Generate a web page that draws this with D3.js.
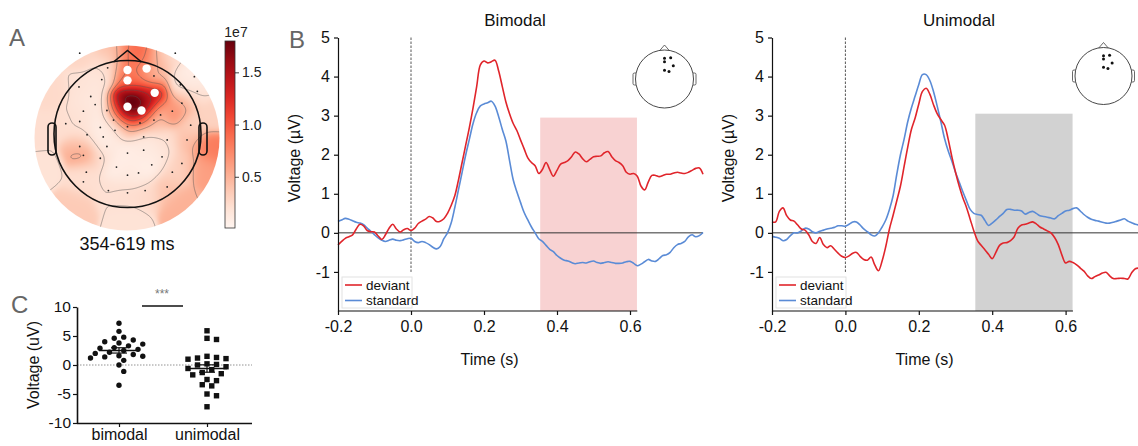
<!DOCTYPE html>
<meta charset="utf-8">
<head>
<title>Mismatch response figure</title>
<script src="https://d3js.org/d3.v7.min.js"></script>
<style>
  body { margin: 0; background: #fff; }
  svg text { font-family: "Liberation Sans", Arial, Helvetica, sans-serif; fill: #111; }
  .axis path, .axis line { stroke: #111; stroke-width: 1.2px; }
  .axis text { font-size: 16px; }
</style>
</head>
<body>
<svg id="fig" width="1138" height="446"></svg>
<script>

// ---------------- data ----------------
// ERP time base, -0.2 .. 0.8 s every 10 ms
var times = d3.range(101).map(function(i) { return Math.round(-20 + i) / 100; });

var bimodalDeviant = [
  -0.31,-0.22,-0.14,-0.10,-0.05,0.10,0.22,0.18,0.06,0.03,0.02,-0.08,-0.17,-0.05,0.12,0.22,0.10,0.02,0.08,0.11,
  0.06,
  0.12,0.24,0.30,0.35,0.42,0.38,0.29,0.30,0.36,0.50,
  0.70,0.95,1.35,1.80,2.25,2.70,3.20,3.75,4.30,4.40,
  4.35,4.38,4.42,4.15,3.75,3.35,3.05,2.80,2.62,2.38,
  2.15,1.92,1.80,1.72,1.52,1.62,1.80,1.62,1.45,1.60,
  1.76,1.80,1.85,1.95,2.07,2.02,1.90,1.82,1.88,1.95,
  1.96,1.97,2.05,2.08,1.95,1.85,1.80,1.72,1.55,1.50,
  1.52,1.45,1.20,1.10,1.30,1.47,1.47,1.44,1.47,1.50,
  1.50,1.53,1.55,1.53,1.52,1.55,1.60,1.65,1.66,1.50
];
var bimodalStandard = [
  0.29,0.33,0.37,0.35,0.31,0.27,0.25,0.21,0.12,0.04,-0.05,-0.13,-0.19,-0.22,-0.19,-0.16,-0.19,-0.20,-0.18,-0.15,
  -0.14,
  -0.22,-0.25,-0.22,-0.25,-0.30,-0.37,-0.41,-0.35,-0.15,0.00,
  0.25,0.65,1.10,1.55,2.00,2.40,2.80,3.08,3.25,3.30,
  3.33,3.37,3.25,2.98,2.65,2.35,1.85,1.36,1.05,0.78,
  0.52,0.33,0.15,0.00,-0.15,-0.22,-0.32,-0.42,-0.48,-0.58,
  -0.65,-0.70,-0.72,-0.76,-0.79,-0.77,-0.76,-0.77,-0.74,-0.72,
  -0.76,-0.78,-0.76,-0.74,-0.76,-0.78,-0.78,-0.77,-0.74,-0.73,
  -0.78,-0.84,-0.80,-0.74,-0.68,-0.72,-0.73,-0.66,-0.58,-0.56,
  -0.50,-0.38,-0.30,-0.27,-0.22,-0.10,-0.05,-0.10,-0.07,0.01
];
var unimodalDeviant = [
  0.28,0.28,0.55,0.64,0.44,0.33,0.30,0.20,0.10,0.07,-0.05,-0.22,-0.27,-0.12,-0.30,-0.38,-0.33,-0.42,-0.52,-0.60,
  -0.63,
  -0.59,-0.52,-0.50,-0.60,-0.68,-0.70,-0.62,-0.82,-0.97,-0.72,
  -0.35,0.10,0.45,0.82,1.20,1.70,2.20,2.65,2.94,3.30,
  3.62,3.70,3.55,3.28,3.05,2.90,2.76,2.40,1.95,1.55,
  1.20,0.90,0.65,0.35,0.05,-0.20,-0.32,-0.43,-0.55,-0.66,
  -0.50,-0.32,-0.26,-0.25,-0.20,-0.10,0.12,0.20,0.22,0.25,
  0.28,0.23,0.15,0.10,0.05,0.00,-0.12,-0.30,-0.57,-0.77,
  -0.73,-0.76,-0.82,-0.90,-0.98,-1.10,-1.17,-1.12,-1.08,-1.03,
  -1.01,-1.10,-1.17,-1.17,-1.16,-1.17,-1.18,-1.02,-0.92,-0.90
];
var unimodalStandard = [
  -0.09,-0.11,-0.14,-0.20,-0.17,-0.07,0.00,0.00,0.05,0.12,0.10,0.03,0.00,0.04,0.07,0.10,0.12,0.14,0.18,0.18,
  0.17,
  0.22,0.28,0.28,0.20,0.10,0.03,-0.05,-0.08,0.00,0.15,
  0.33,0.60,0.95,1.50,2.00,2.40,2.85,3.20,3.50,3.80,
  4.05,4.05,3.90,3.62,3.25,2.85,2.42,2.10,1.84,1.55,
  1.30,1.05,0.82,0.60,0.50,0.47,0.45,0.32,0.19,0.25,
  0.33,0.42,0.50,0.60,0.60,0.58,0.58,0.56,0.48,0.52,
  0.55,0.50,0.44,0.42,0.40,0.38,0.36,0.44,0.50,0.56,
  0.58,0.62,0.64,0.56,0.47,0.40,0.35,0.32,0.30,0.27,
  0.25,0.25,0.27,0.30,0.33,0.36,0.30,0.26,0.22,0.20
];
var erpYTicks = [-1, 0, 1, 2, 3, 4, 5];
var erpXTicks = [-0.2, 0.0, 0.2, 0.4, 0.6];
var testWindow = [0.354, 0.619];

// panel C: per-subject mean voltage in the window
var bimodalSubjects = [7.2,5.8,4.8,4.6,4.3,4.0,3.8,3.6,3.3,3.0,2.9,2.7,2.5,2.2,2.0,1.8,1.6,1.5,1.4,1.2,0.8,0.0,-1.1,-3.5];
var unimodalSubjects = [5.9,4.6,4.4,1.5,1.3,1.2,1.1,1.0,0.2,0.1,0.0,-0.3,-0.6,-0.8,-1.3,-1.5,-1.7,-2.5,-2.7,-3.4,-3.6,-5.0,-5.3,-7.2];
var groupNames = ["bimodal", "unimodal"];
var cTicks = [-10, -5, 0, 5, 10];

// panel A: sensor layout (head radius = 1) and F-values (x1e7)
var sensorPos = [
  [-0.65,-1.10],[0.65,-1.10],[-0.27,-0.90],[-0.35,-0.74],[-0.66,-0.64],[-0.50,-0.51],[-0.60,-0.31],[-0.44,-0.40],
  [-0.28,-0.32],[-0.84,-0.14],[-0.65,-0.17],[-0.37,-0.09],[-0.17,-0.05],[0.00,-0.10],[0.36,-0.19],[0.61,-0.31],
  [0.74,-0.42],[0.91,-0.78],[0.95,-0.58],[0.86,-0.12],[-0.55,0.01],[-0.65,0.17],[-0.60,0.29],[-0.37,0.33],
  [0.00,0.26],[0.22,0.22],[0.47,0.31],[0.74,0.40],[-0.56,0.52],[-0.15,0.45],[0.00,0.56],[0.15,0.53],
  [0.33,0.42],[0.61,0.52],[-0.60,0.65],[-0.26,0.77],[0.00,0.80],[0.24,0.77],[0.54,0.72],[0.17,-0.15],
  [-0.19,-0.19],[0.45,-0.26],[0.81,0.08],[-0.33,0.04],[0.22,0.04],[0.54,0.08],[-0.28,0.17],[0.72,-0.67],
  [0.36,-0.79]
];
var sensorVal = [
  0.28,0.22,0.22,0.15,0.18,0.15,0.18,0.12,
  0.06,0.22,0.18,0.06,0.15,0.40,0.35,0.80,
  0.45,0.06,0.20,0.30,0.20,0.40,0.65,0.25,
  0.08,0.12,0.15,0.35,0.20,0.06,0.15,0.08,
  0.06,0.30,0.22,0.20,0.22,0.25,0.40,0.50,
  0.18,0.45,0.45,0.06,0.12,0.20,0.12,0.15,
  0.35
];
var selectedPos = [[0.00,-0.87],[0.26,-0.89],[0.00,-0.73],[0.37,-0.56],[0.00,-0.37],[0.19,-0.32]];
var selectedVal = [0.80, 0.72, 0.88, 1.30, 2.25, 1.75];
// extra interpolation anchors inside the cluster and on the extrapolated rim
var anchorPos = [
  [0.10,-0.50],[-0.08,-0.42],[0.25,-0.45],[0.06,-0.25],[-0.10,-0.30],[0.15,-0.72],[0.18,-1.05],[0.05,-1.12],
  [-0.20,-1.12],[0.42,-1.02],[1.12,0.20],[1.02,0.45],[0.75,0.95],[-0.70,0.95],[0.00,1.15],[-1.15,0.00],
  [-1.00,-0.60],[1.00,-0.80],[-1.10,0.45],[1.15,-0.25],[0.05,-0.38]
];
var anchorVal = [
  1.75,1.35,1.50,1.50,1.05,0.85,0.95,0.85,
  0.40,0.40,0.80,0.60,0.50,0.35,0.18,0.22,
  0.25,0.12,0.18,0.30,2.35
];
var topoMax = 1.8;
var topoLevels = [0.2, 0.5, 0.8, 1.1, 1.4, 1.7];
var cbarTicks = [0.5, 1.0, 1.5];

// ---------------- drawing ----------------
var svg = d3.select("#fig");
var RED = "#e0252b", BLUE = "#5a8bd6";

function letter(txt, x, y) {
  svg.append("text").attr("x", x).attr("y", y).text(txt)
    .style("font-size", "24px").style("fill", "#666");
}

// ----- Panel A -----
(function() {
  var cx = 127.5, cy = 134, R = 73.5;           // head circle
  var dcx = 127, dcy = 138, dR = 92.5;          // coloured disk
  var half = 97, N = half * 2;
  var ox = dcx - half, oy = dcy - half;

  var pts = [];
  sensorPos.forEach(function(p, i) { pts.push([p[0], p[1], sensorVal[i]]); });
  selectedPos.forEach(function(p, i) { pts.push([p[0], p[1], selectedVal[i]]); });
  anchorPos.forEach(function(p, i) { pts.push([p[0], p[1], anchorVal[i]]); });
  var s2 = 2 * 0.12 * 0.12;

  function field(u, v) {
    var num = 0, den = 0;
    for (var k = 0; k < pts.length; k++) {
      var du = u - pts[k][0], dv = v - pts[k][1];
      var w = Math.exp(-(du * du + dv * dv) / s2);
      num += w * pts[k][2]; den += w;
    }
    return den > 0 ? num / den : 0;
  }

  var grid = new Float64Array(N * N);
  for (var j = 0; j < N; j++) {
    for (var i = 0; i < N; i++) {
      grid[j * N + i] = field((ox + i + 0.5 - cx) / R, (oy + j + 0.5 - cy) / R);
    }
  }

  var color = d3.scaleSequential(d3.interpolateReds).domain([0, topoMax]).clamp(true);
  var canvas = document.createElement("canvas");
  canvas.width = N; canvas.height = N;
  var ctx = canvas.getContext("2d");
  var img = ctx.createImageData(N, N);
  for (var j2 = 0; j2 < N; j2++) {
    for (var i2 = 0; i2 < N; i2++) {
      var c = d3.rgb(color(grid[j2 * N + i2]));
      var idx = (j2 * N + i2) * 4;
      img.data[idx] = c.r; img.data[idx + 1] = c.g; img.data[idx + 2] = c.b; img.data[idx + 3] = 255;
    }
  }
  ctx.putImageData(img, 0, 0);

  var defs = svg.append("defs");
  defs.append("clipPath").attr("id", "diskClip")
    .append("circle").attr("cx", dcx).attr("cy", dcy).attr("r", dR);

  var gA = svg.append("g");
  gA.append("image").attr("x", ox).attr("y", oy).attr("width", N).attr("height", N)
    .attr("href", canvas.toDataURL()).attr("clip-path", "url(#diskClip)");

  var contours = d3.contours().size([N, N]).thresholds(topoLevels)(Array.from(grid));
  gA.append("g").attr("clip-path", "url(#diskClip)")
    .append("g").attr("transform", "translate(" + ox + "," + oy + ")")
    .selectAll("path").data(contours).join("path")
      .attr("d", d3.geoPath())
      .attr("fill", "none").attr("stroke", "#555").attr("stroke-width", 0.6).attr("stroke-opacity", 0.8);

  // head outline
  gA.append("circle").attr("cx", cx).attr("cy", cy).attr("r", R)
    .attr("fill", "none").attr("stroke", "#111").attr("stroke-width", 1.6);
  gA.append("path")
    .attr("d", "M" + (cx - 14) + "," + (cy - R + 1.5) + "L" + cx + "," + (cy - R - 10) + "L" + (cx + 14) + "," + (cy - R + 1.5))
    .attr("fill", "none").attr("stroke", "#111").attr("stroke-width", 1.6);
  [cx - R - 6, cx + R - 2].forEach(function(ex) {
    gA.append("rect").attr("x", ex).attr("y", cy - 11).attr("width", 8).attr("height", 32).attr("rx", 4)
      .attr("fill", "none").attr("stroke", "#111").attr("stroke-width", 1.6);
  });

  gA.selectAll("circle.sensor").data(sensorPos).join("circle").attr("class", "sensor")
    .attr("cx", function(d) { return cx + d[0] * R; }).attr("cy", function(d) { return cy + d[1] * R; })
    .attr("r", 0.9).attr("fill", "#222");
  gA.selectAll("circle.sel").data(selectedPos).join("circle").attr("class", "sel")
    .attr("cx", function(d) { return cx + d[0] * R; }).attr("cy", function(d) { return cy + d[1] * R; })
    .attr("r", 4.2).attr("fill", "#fff");

  svg.append("text").attr("x", 127).attr("y", 250).attr("text-anchor", "middle")
    .style("font-size", "18px").text("354-619 ms");

  // colorbar
  var cb = d3.scaleLinear().domain([0, topoMax]).range([229, 41]);
  var grad = defs.append("linearGradient").attr("id", "cbGrad")
    .attr("x1", 0).attr("y1", 1).attr("x2", 0).attr("y2", 0);
  d3.range(11).forEach(function(k) {
    grad.append("stop").attr("offset", k / 10).attr("stop-color", d3.interpolateReds(k / 10));
  });
  svg.append("rect").attr("x", 225).attr("y", 41).attr("width", 10).attr("height", 187)
    .attr("fill", "url(#cbGrad)").attr("stroke", "#333").attr("stroke-width", 0.8);
  var cbAxis = svg.append("g").attr("class", "axis").attr("transform", "translate(235,0)")
    .call(d3.axisRight(cb).tickValues(cbarTicks).tickSize(4).tickPadding(3)
      .tickFormat(function(d) { return d.toFixed(1); }));
  cbAxis.select(".domain").remove();
  cbAxis.selectAll("line").style("stroke-width", "0.8px");
  cbAxis.selectAll("text").style("font-size", "14px").style("fill", "#222");
  svg.append("text").attr("x", 236).attr("y", 37).attr("text-anchor", "middle")
    .style("font-size", "14px").style("fill", "#222").text("1e7");
})();
letter("A", 9, 46);

// ----- Panel B -----
function headInset(cx, cy, r) {
  var g = svg.append("g");
  g.append("path")
    .attr("d", "M" + (cx - 5) + "," + (cy - r + 0.8) + "L" + cx + "," + (cy - r - 5) + "L" + (cx + 5) + "," + (cy - r + 0.8))
    .attr("fill", "#fff").attr("stroke", "#444").attr("stroke-width", 0.8);
  [cx - r - 2.5, cx + r - 1.5].forEach(function(x) {
    g.append("rect").attr("x", x).attr("y", cy - 6).attr("width", 4).attr("height", 12).attr("rx", 1.5)
      .attr("fill", "#fff").attr("stroke", "#444").attr("stroke-width", 0.8);
  });
  g.append("circle").attr("cx", cx).attr("cy", cy).attr("r", r)
    .attr("fill", "#fff").attr("stroke", "#333").attr("stroke-width", 0.9);
  g.selectAll("circle.dot").data(selectedPos).join("circle").attr("class", "dot")
    .attr("cx", function(d) { return cx + d[0] * 0.82 * r; })
    .attr("cy", function(d) { return cy + d[1] * 0.82 * r; })
    .attr("r", 1.5).attr("fill", "#111");
}

function erpPanel(cfg) {
  var x = d3.scaleLinear().domain([-0.2, 0.8]).range([cfg.x0, cfg.x1]);
  var y = d3.scaleLinear().domain([-2, 5]).range([311, 37.5]);
  var g = svg.append("g");

  g.append("rect")
    .attr("x", x(testWindow[0])).attr("y", y(cfg.shadeTop))
    .attr("width", x(testWindow[1]) - x(testWindow[0])).attr("height", y(-2) - y(cfg.shadeTop))
    .attr("fill", cfg.shade);

  g.append("line").attr("x1", x(-0.2)).attr("x2", x(0.8)).attr("y1", y(0)).attr("y2", y(0))
    .attr("stroke", "#333").attr("stroke-width", 1);
  g.append("line").attr("x1", x(0)).attr("x2", x(0)).attr("y1", y(5)).attr("y2", y(-1))
    .attr("stroke", "#444").attr("stroke-width", 0.9).attr("stroke-dasharray", "2.5,1.5");

  var line = d3.line()
    .x(function(d, i) { return x(times[i]); })
    .y(function(d) { return y(d); })
    .curve(d3.curveCatmullRom);
  g.append("path").datum(cfg.standard).attr("d", line)
    .attr("fill", "none").attr("stroke", BLUE).attr("stroke-width", 1.6);
  g.append("path").datum(cfg.deviant).attr("d", line)
    .attr("fill", "none").attr("stroke", RED).attr("stroke-width", 1.6);

  // legend
  var lx = x(-0.2) + 4, ly = 277;
  g.append("rect").attr("x", lx).attr("y", ly).attr("width", 70).attr("height", 31)
    .attr("fill", "#fff").attr("fill-opacity", 0.9).attr("stroke", "#e2e2e2").attr("stroke-width", 1);
  [["deviant", RED], ["standard", BLUE]].forEach(function(e, k) {
    var yy = ly + 8 + k * 15.5;
    g.append("line").attr("x1", lx + 3).attr("x2", lx + 20).attr("y1", yy).attr("y2", yy)
      .attr("stroke", e[1]).attr("stroke-width", 1.6);
    g.append("text").attr("x", lx + 24).attr("y", yy + 4.5).text(e[0]).style("font-size", "13.5px");
  });

  g.append("g").attr("class", "axis").attr("transform", "translate(" + cfg.x0 + ",0)")
    .call(d3.axisLeft(y).tickValues(erpYTicks).tickSize(4).tickSizeOuter(0).tickPadding(4)
      .tickFormat(function(d) { return String(d); }));
  var xa = g.append("g").attr("class", "axis").attr("transform", "translate(0,311)")
    .call(d3.axisBottom(x).tickValues(erpXTicks).tickSize(4).tickPadding(6)
      .tickFormat(function(d) { return d.toFixed(1); }));
  xa.select(".domain").remove();
  g.append("line").attr("x1", x(-0.2)).attr("x2", x(0.62)).attr("y1", 311).attr("y2", 311)
    .attr("stroke", "#111").attr("stroke-width", 1.2);

  svg.append("text").attr("x", cfg.titleX).attr("y", 26).attr("text-anchor", "middle")
    .style("font-size", "17px").text(cfg.title);
  svg.append("text").attr("x", (x(-0.2) + x(0.62)) / 2 + 2).attr("y", 365).attr("text-anchor", "middle")
    .style("font-size", "16px").text("Time (s)");
  svg.append("text").attr("transform", "translate(" + (cfg.x0 - 38) + ",158) rotate(-90)")
    .attr("text-anchor", "middle").style("font-size", "16px").text("Voltage (\u00b5V)");

  headInset(cfg.head[0], cfg.head[1], cfg.head[2]);
}

erpPanel({ x0: 338, x1: 703, title: "Bimodal", titleX: 515, deviant: bimodalDeviant, standard: bimodalStandard,
  shade: "#f8d2d2", shadeTop: 2.95, head: [664.5, 79, 29] });
erpPanel({ x0: 772, x1: 1139, title: "Unimodal", titleX: 959, deviant: unimodalDeviant, standard: unimodalStandard,
  shade: "#d2d2d2", shadeTop: 3.05, head: [1103.5, 76, 28.5] });
letter("B", 289, 48);

// ----- Panel C -----
(function() {
  var yC = d3.scaleLinear().domain([-10, 10]).range([423, 307]);
  var xC = d3.scalePoint().domain(groupNames).range([119, 207]);
  var g = svg.append("g");

  g.append("line").attr("x1", 77).attr("x2", 252).attr("y1", yC(0)).attr("y2", yC(0))
    .attr("stroke", "#777").attr("stroke-width", 0.8).attr("stroke-dasharray", "1.5,1.5");

  // simple deterministic beeswarm
  function swarm(vals, cxp, diam) {
    var placed = [];
    vals.slice().sort(function(a, b) { return b - a; }).forEach(function(v) {
      var py = yC(v);
      for (var k = 0; k < 40; k++) {
        var off = (k % 2 ? 1 : -1) * Math.ceil(k / 2) * diam * 0.72;
        var px = cxp + off, ok = true;
        for (var m = 0; m < placed.length; m++) {
          var dx = placed[m][0] - px, dy = placed[m][1] - py;
          if (dx * dx + dy * dy < diam * diam) { ok = false; break; }
        }
        if (ok) { placed.push([px, py]); break; }
      }
    });
    return placed;
  }

  var sets = [bimodalSubjects, unimodalSubjects];
  sets.forEach(function(vals, gi) {
    var cxp = xC(groupNames[gi]);
    var pts = swarm(vals, cxp, 6.6);
    if (gi === 0) {
      g.selectAll("circle.b").data(pts).join("circle").attr("class", "b")
        .attr("cx", function(d) { return d[0]; }).attr("cy", function(d) { return d[1]; })
        .attr("r", 2.7).attr("fill", "#111");
    } else {
      g.selectAll("rect.u").data(pts).join("rect").attr("class", "u")
        .attr("x", function(d) { return d[0] - 2.7; }).attr("y", function(d) { return d[1] - 2.7; })
        .attr("width", 5.4).attr("height", 5.4).attr("fill", "#111");
    }
    var mean = d3.mean(vals), sem = d3.deviation(vals) / Math.sqrt(vals.length);
    g.append("line").attr("x1", cxp - 20).attr("x2", cxp + 20).attr("y1", yC(mean)).attr("y2", yC(mean))
      .attr("stroke", "#111").attr("stroke-width", 1.5);
    [mean - sem, mean + sem].forEach(function(v) {
      g.append("line").attr("x1", cxp - 8).attr("x2", cxp + 8).attr("y1", yC(v)).attr("y2", yC(v))
        .attr("stroke", "#111").attr("stroke-width", 1.2);
    });
    g.append("line").attr("x1", cxp).attr("x2", cxp).attr("y1", yC(mean - sem)).attr("y2", yC(mean + sem))
      .attr("stroke", "#111").attr("stroke-width", 1.2);
  });

  var ya = g.append("g").attr("class", "axis").attr("transform", "translate(77,0)")
    .call(d3.axisLeft(yC).tickValues(cTicks).tickSize(4).tickSizeOuter(0).tickPadding(2)
      .tickFormat(function(d) { return String(d); }));
  ya.selectAll("text").style("font-size", "15.5px");
  ya.select(".domain").style("stroke-width", "1.6px");
  var xa = g.append("g").attr("class", "axis").attr("transform", "translate(0,423)")
    .call(d3.axisBottom(xC).tickSize(4).tickSizeOuter(0).tickPadding(2));
  xa.select(".domain").attr("d", "M77,0.5H252").style("stroke-width", "1.6px");
  xa.selectAll("text").style("font-size", "16px");

  svg.append("text").attr("transform", "translate(39,365) rotate(-90)")
    .attr("text-anchor", "middle").style("font-size", "16px").text("Voltage (uV)");

  g.append("line").attr("x1", 142).attr("x2", 183).attr("y1", 306).attr("y2", 306)
    .attr("stroke", "#111").attr("stroke-width", 1.6);
  svg.append("text").attr("x", 162).attr("y", 298).attr("text-anchor", "middle")
    .style("font-size", "12px").style("fill", "#777").text("***");
})();
letter("C", 11, 313);

</script>
</body>
